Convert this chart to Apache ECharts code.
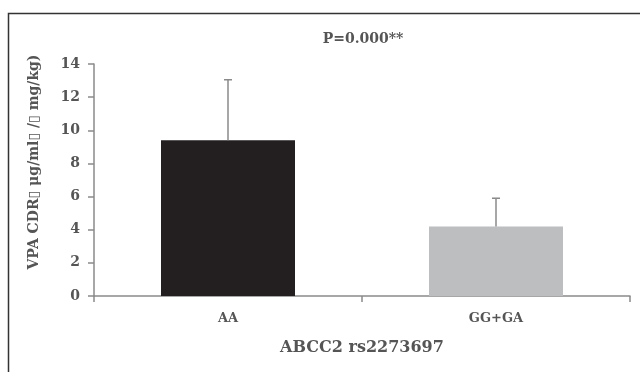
<!DOCTYPE html>
<html>
<head>
<meta charset="utf-8">
<script src="https://cdn.jsdelivr.net/npm/echarts@6/dist/echarts.min.js"></script>
<style>
  html, body { margin: 0; padding: 0; background: #fff; }
  #chart { width: 640px; height: 372px; }
</style>
</head>
<body>
<div id="chart"></div>
<script>
// Chart data
const categories = ['AA', 'GG+GA'];
const means = [9.4, 4.2];
const upperErr = [13.05, 5.9];
const barColors = ['#231f20', '#bcbec0'];
const yTicks = [0, 2, 4, 6, 8, 10, 12, 14];

const font = '"DejaVu Serif", "Liberation Serif", serif';
const axisColor = '#8a8a8a';
const textColor = '#555555';

const chart = echarts.init(document.getElementById('chart'));

chart.setOption({
  animation: false,
  backgroundColor: '#ffffff',
  textStyle: { fontFamily: font },
  graphic: [
    {
      // outer frame
      type: 'rect',
      shape: { x: 8.5, y: 13.5, width: 700, height: 500 },
      style: { fill: 'none', stroke: '#333', lineWidth: 1.5 },
      silent: true
    },
    {
      // y axis title, sits a bit above the axis centre like the original
      type: 'text',
      x: 34,
      y: 162,
      rotation: Math.PI / 2,
      style: {
        text: 'VPA CDR\u25AF μg/ml\u25AF /\u25AF mg/kg)',
        font: 'bold 14px ' + font,
        fill: textColor,
        align: 'center',
        verticalAlign: 'middle'
      },
      silent: true
    }
  ],
  title: {
    text: 'P=0.000**',
    left: 358,
    top: 27,
    textAlign: 'center',
    textStyle: { fontFamily: font, fontSize: 14, fontWeight: 'bold', color: textColor }
  },
  grid: { left: 94, right: 10, top: 64, bottom: 76 },
  xAxis: {
    type: 'category',
    data: categories,
    boundaryGap: true,
    name: 'ABCC2 rs2273697',
    nameLocation: 'middle',
    nameGap: 44,
    nameTextStyle: { fontFamily: font, fontSize: 16, fontWeight: 'bold', color: textColor },
    axisLine: { lineStyle: { color: axisColor, width: 1.5 } },
    axisTick: { show: true, length: 6, lineStyle: { color: axisColor, width: 1.5 } },
    axisLabel: { margin: 16, fontFamily: font, fontSize: 13, fontWeight: 'bold', color: textColor }
  },
  yAxis: {
    type: 'value',
    min: 0,
    max: yTicks[yTicks.length - 1],
    interval: 2,
    splitLine: { show: false },
    axisLine: { show: true, lineStyle: { color: axisColor, width: 1.5 } },
    axisTick: { show: true, length: 6, lineStyle: { color: axisColor, width: 1.5 } },
    axisLabel: { margin: 14, fontFamily: font, fontSize: 14, fontWeight: 'bold', color: textColor }
  },
  series: [
    {
      type: 'bar',
      barWidth: '50%',
      data: means.map((v, i) => ({ value: v, itemStyle: { color: barColors[i] } })),
      z: 2
    },
    {
      type: 'custom',
      z: 3,
      data: means.map((v, i) => [i, v, upperErr[i]]),
      renderItem: function (params, api) {
        const base = api.coord([api.value(0), api.value(1)]);
        const top = api.coord([api.value(0), api.value(2)]);
        const half = 4;
        return {
          type: 'group',
          children: [
            {
              type: 'line',
              shape: { x1: base[0], y1: base[1], x2: top[0], y2: top[1] },
              style: { stroke: axisColor, lineWidth: 1.5 }
            },
            {
              type: 'line',
              shape: { x1: top[0] - half, y1: top[1], x2: top[0] + half, y2: top[1] },
              style: { stroke: axisColor, lineWidth: 1.5 }
            }
          ]
        };
      }
    }
  ]
});
</script>
</body>
</html>
